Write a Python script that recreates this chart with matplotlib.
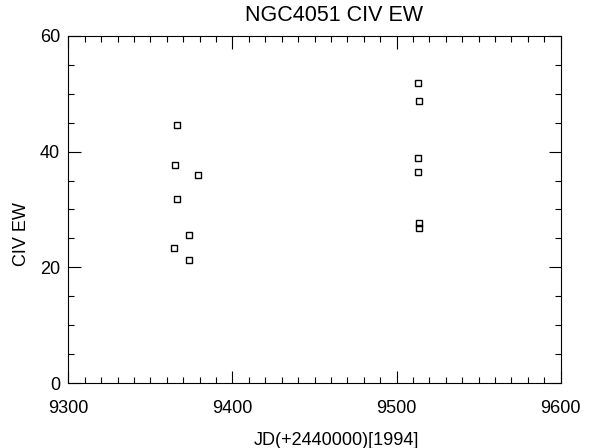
import matplotlib
matplotlib.use("Agg")
from matplotlib import pyplot as plt
from matplotlib.ticker import MultipleLocator

# CIV equivalent widths, two observing campaigns
jd = [9366.0, 9365.0, 9378.8, 9366.0, 9373.7, 9364.6, 9373.7,
      9513.2, 9513.8, 9512.8, 9512.8, 9513.8, 9513.8]
ew = [44.6, 37.7, 36.0, 31.8, 25.5, 23.4, 21.3,
      51.8, 48.8, 38.9, 36.4, 27.6, 26.8]

plt.rcParams["font.family"] = ["Liberation Sans", "DejaVu Sans"]

fig = plt.figure(figsize=(5.94, 4.48), dpi=100)
ax = fig.add_axes([0.115, 0.145, 0.829, 0.775])

ax.plot(jd, ew, linestyle="none", marker="s", markersize=5,
        markerfacecolor="none", markeredgecolor="black", markeredgewidth=1.0)

ax.set_xlim(9300, 9600)
ax.set_ylim(0, 60)
ax.xaxis.set_major_locator(MultipleLocator(100))
ax.xaxis.set_minor_locator(MultipleLocator(10))
ax.yaxis.set_major_locator(MultipleLocator(20))
ax.yaxis.set_minor_locator(MultipleLocator(5))
ax.tick_params(which="both", direction="in", top=True, right=True, width=0.8)
ax.tick_params(which="major", length=9, labelsize=13, pad=12)
ax.tick_params(which="minor", length=4)
ax.tick_params(axis="y", which="major", pad=6)
for s in ax.spines.values():
    s.set_linewidth(0.8)

ax.set_title("NGC4051 CIV EW", fontsize=15.5, x=0.54, pad=11)
ax.set_xlabel("JD(+2440000)[1994]", fontsize=13)
ax.xaxis.set_label_coords(0.544, -0.14)
ax.set_ylabel("CIV EW", fontsize=13)
ax.yaxis.set_label_coords(-0.077, 0.43)

plt.savefig("out.png", dpi=100)
